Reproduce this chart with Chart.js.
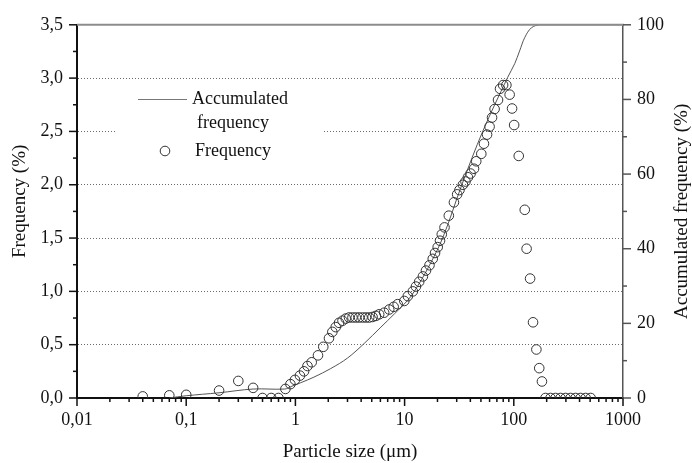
<!DOCTYPE html>
<html>
<head>
<meta charset="utf-8">
<script src="https://cdn.jsdelivr.net/npm/chart.js@4.4.1/dist/chart.umd.min.js"></script>
<style>
  html, body { margin: 0; padding: 0; background: #fff; }
  #wrap { width: 692px; height: 463px; }
</style>
</head>
<body>
<div id="wrap"><canvas id="psd" width="692" height="463"></canvas></div>
<script>
// particle size (um) and frequency (%)
const freqSizes = [0.04, 0.07, 0.1, 0.2, 0.3, 0.41, 0.5, 0.6, 0.7, 0.81, 0.9, 0.99, 1.1, 1.2, 1.29, 1.41,
    1.61, 1.8, 2.03, 2.18, 2.34, 2.51, 2.7, 2.89, 3.1, 3.33, 3.57, 3.83, 4.12, 4.42, 4.74, 5.09, 5.46,
    5.85, 6.5, 7.23, 7.94, 8.64, 9.94, 10.7, 11.9, 12.7, 13.6, 14.7, 15.7, 16.9, 18.1, 19.0, 20.1,
    21.1, 21.9, 23.2, 25.4, 28.3, 30.3, 31.8, 34.2, 36.1, 38.0, 40.2, 43.2, 45.3, 50.4, 53.3, 56.9,
    60.0, 63.2, 66.7, 71.7, 74.8, 79.8, 85.5, 91.6, 96.4, 100.7, 111, 126, 131, 141, 150, 161, 171,
    181, 195, 217, 241, 268, 298, 331, 368, 409, 455, 506];
const freqValues = [0.015, 0.025, 0.03, 0.07, 0.16, 0.095, 0, 0, 0, 0.085, 0.13, 0.17, 0.21, 0.25, 0.3, 0.335,
    0.4, 0.48, 0.56, 0.62, 0.665, 0.705, 0.725, 0.745, 0.755, 0.755, 0.755, 0.755, 0.755, 0.755, 0.755, 0.76, 0.77,
    0.785, 0.8, 0.83, 0.855, 0.88, 0.91, 0.955, 1.0, 1.045, 1.09, 1.14, 1.195, 1.245, 1.305, 1.36, 1.415,
    1.475, 1.535, 1.6, 1.71, 1.835, 1.91, 1.95, 2.0, 2.03, 2.07, 2.105, 2.15, 2.22, 2.29, 2.385, 2.47,
    2.545, 2.63, 2.71, 2.795, 2.9, 2.935, 2.935, 2.845, 2.715, 2.56, 2.27, 1.765, 1.4, 1.12, 0.71, 0.455, 0.28,
    0.155, 0, 0, 0, 0, 0, 0, 0, 0, 0, 0];

// accumulated frequency (%)
const cumSizes = [0.07, 0.1, 0.2, 0.41, 0.8, 0.9, 1.12, 1.48, 2.11, 3.0, 4.26, 6.07, 8.04, 10.7, 12.3,
    16.5, 22.4, 33.5, 52.2, 87.5, 102, 113, 126, 145, 175, 1000];
const cumValues = [0, 0.6, 1.4, 2.4, 2.4, 3.0, 4.1, 5.6, 7.9, 10.7, 14.6, 19.0, 22.5, 26.2, 28.6,
    35.0, 43.0, 57.2, 71.6, 85.8, 89.6, 93.0, 96.6, 99.2, 100, 100];

const xTickValues = [0.01, 0.1, 1, 10, 100, 1000];

const SERIF = '"Liberation Serif", "Times New Roman", serif';
const INK = '#111';

// ticks, titles, legend and the top frame line
const extras = {
    id: 'extras',
    afterDraw(chart) {
        const { ctx, chartArea: ca, scales } = chart;
        const x = scales.x, y = scales.y, y2 = scales.y2;
        ctx.save();

        ctx.strokeStyle = '#8c8c8c';
        ctx.lineWidth = 2;
        ctx.beginPath();
        ctx.moveTo(ca.left, ca.top);
        ctx.lineTo(ca.right + 1, ca.top);
        ctx.stroke();

        ctx.lineWidth = 1.5;
        ctx.strokeStyle = INK;
        for (let e = -2; e <= 3; e++) {
            for (let k = 1; k <= 9; k++) {
                const v = k * Math.pow(10, e);
                if (v > 1000.5) break;
                const px = x.getPixelForValue(v);
                const len = k === 1 ? 8 : 4;
                ctx.beginPath();
                ctx.moveTo(px, ca.bottom);
                ctx.lineTo(px, ca.bottom + len);
                ctx.stroke();
            }
        }
        for (let i = 0; i <= 14; i++) {
            const py = y.getPixelForValue(i * 0.25);
            const len = i % 2 === 0 ? 8 : 4;
            ctx.beginPath();
            ctx.moveTo(ca.left, py);
            ctx.lineTo(ca.left - len, py);
            ctx.stroke();
        }
        ctx.strokeStyle = '#555';
        for (let v = 0; v <= 100; v += 10) {
            const py = y2.getPixelForValue(v);
            const len = v % 20 === 0 ? 8 : 4;
            ctx.beginPath();
            ctx.moveTo(ca.right, py);
            ctx.lineTo(ca.right + len, py);
            ctx.stroke();
        }

        // axis titles
        ctx.fillStyle = INK;
        ctx.font = '19px ' + SERIF;
        ctx.textAlign = 'center';
        ctx.textBaseline = 'middle';
        const midY = (ca.top + ca.bottom) / 2;
        ctx.fillText('Particle size (\u03bcm)', (ca.left + ca.right) / 2, 452);
        ctx.save();
        ctx.translate(20, midY - 10);
        ctx.rotate(-Math.PI / 2);
        ctx.fillText('Frequency (%)', 0, 0);
        ctx.restore();
        ctx.save();
        ctx.translate(682, midY);
        ctx.rotate(-Math.PI / 2);
        ctx.fillText('Accumulated frequency (%)', 0, 0);
        ctx.restore();

        // legend
        ctx.fillStyle = '#fff';
        ctx.fillRect(116, 84, 208, 80);
        ctx.strokeStyle = '#777';
        ctx.lineWidth = 1;
        ctx.beginPath();
        ctx.moveTo(138, 99.5);
        ctx.lineTo(187, 99.5);
        ctx.stroke();
        ctx.strokeStyle = '#333';
        ctx.beginPath();
        ctx.arc(165, 151, 4.8, 0, Math.PI * 2);
        ctx.stroke();
        ctx.fillStyle = INK;
        ctx.font = '18px ' + SERIF;
        ctx.textAlign = 'left';
        ctx.fillText('Accumulated', 192, 99);
        ctx.fillText('frequency', 197, 123);
        ctx.fillText('Frequency', 195, 151);

        ctx.restore();
    }
};

const ctx = document.getElementById('psd');
const chart = new Chart(ctx, {
    type: 'scatter',
    data: {
        datasets: [{
            label: 'Frequency',
            data: freqSizes.map((s, i) => ({ x: s, y: freqValues[i] })),
            yAxisID: 'y',
            showLine: false,
            pointStyle: 'circle',
            pointRadius: 4.8,
            pointBorderWidth: 1,
            pointBorderColor: '#333',
            pointBackgroundColor: 'rgba(255,255,255,0)'
        }, {
            label: 'Accumulated frequency',
            data: cumSizes.map((s, i) => ({ x: s, y: cumValues[i] })),
            yAxisID: 'y2',
            showLine: true,
            borderColor: '#555',
            borderWidth: 1,
            pointRadius: 0,
            tension: 0.35
        }]
    },
    options: {
        responsive: false,
        animation: false,
        devicePixelRatio: 1,
        layout: { padding: { top: 16, left: 0, right: 0, bottom: 0 } },
        plugins: {
            legend: { display: false },
            tooltip: { enabled: false }
        },
        scales: {
            x: {
                type: 'logarithmic',
                position: 'bottom',
                min: 0.01,
                max: 1000,
                afterBuildTicks: s => { s.ticks = xTickValues.map(v => ({ value: v })); },
                afterFit: s => { s.height = 65; },
                grid: { display: false, drawTicks: false },
                border: { display: true, color: INK, width: 2 },
                ticks: {
                    padding: 11,
                    autoSkip: false,
                    maxRotation: 0,
                    color: INK,
                    font: { family: SERIF, size: 18 },
                    callback: v => String(v).replace('.', ',')
                }
            },
            y: {
                position: 'left',
                min: 0,
                max: 3.5,
                afterFit: s => { s.width = 77; },
                grid: {
                    drawTicks: false,
                    lineWidth: 1,
                    color: c => (c.tick && c.tick.value > 0 && c.tick.value < 3.5) ? '#6a6a6a' : 'rgba(0,0,0,0)'
                },
                border: { display: true, color: INK, width: 2, dash: [1, 2] },
                ticks: {
                    stepSize: 0.5,
                    padding: 14,
                    color: INK,
                    font: { family: SERIF, size: 18 },
                    callback: v => v.toFixed(1).replace('.', ',')
                }
            },
            y2: {
                position: 'right',
                min: 0,
                max: 100,
                afterFit: s => { s.width = 69; },
                grid: { display: false, drawTicks: false },
                border: { display: true, color: '#555', width: 1.5 },
                ticks: {
                    stepSize: 20,
                    padding: 14,
                    color: INK,
                    font: { family: SERIF, size: 18 }
                }
            }
        }
    },
    plugins: [extras]
});
</script>
</body>
</html>
